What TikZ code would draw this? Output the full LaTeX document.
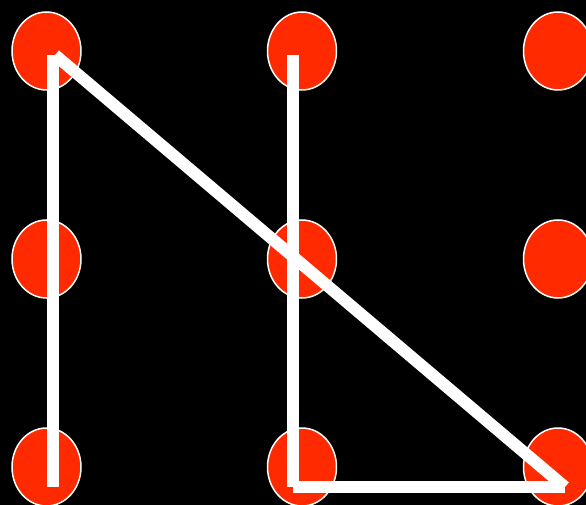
\documentclass[tikz,border=0pt]{standalone}
\usepackage{tikz}
\usetikzlibrary{shapes.geometric}
\definecolor{dotred}{RGB}{255,42,0}
\tikzset{
  dot/.style={ellipse, draw=white, line width=1.5pt, fill=dotred,
              minimum width=69pt, minimum height=78pt, inner sep=0pt},
  stroke/.style={draw=white, line width=12pt, line cap=butt}
}
\begin{document}
\begin{tikzpicture}[x=1pt, y=-1pt]
  \fill[black] (0,0) rectangle (586,505);
  \useasboundingbox (0,0) rectangle (586,505);
  % grid of dots
  \node[dot] (d11) at (46.5,51) {};
  \node[dot] (d12) at (302,51) {};
  \node[dot] (d13) at (558,51) {};
  \node[dot] (d21) at (46.5,259) {};
  \node[dot] (d22) at (302,259) {};
  \node[dot] (d23) at (558,259) {};
  \node[dot] (d31) at (46.5,467) {};
  \node[dot] (d32) at (302,467) {};
  \node[dot] (d33) at (558,467) {};
  % stroke ends
  \coordinate (startL) at (53,487);
  \coordinate (topL) at (53,55);
  \coordinate (topD) at (55,55);
  \coordinate (endD) at (565,487);
  \coordinate (cornerM) at (293,487);
  \coordinate (topM) at (293,55);
  \draw[stroke] (startL) -- (topL);
  \draw[stroke] (topD) -- (endD);
  \draw[stroke] (endD) -- (cornerM);
  \draw[stroke] (cornerM) -- (topM);
\end{tikzpicture}
\end{document}
